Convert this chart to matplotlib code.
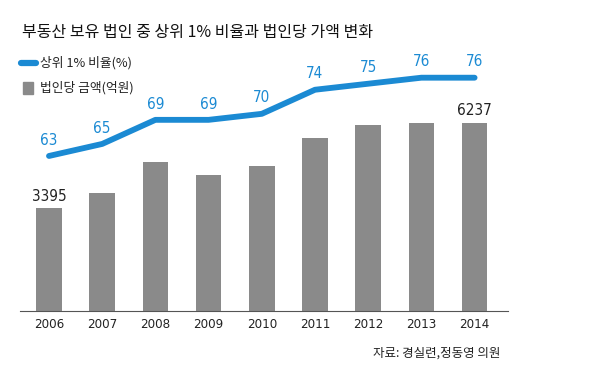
import matplotlib
matplotlib.use("Agg")
import matplotlib.pyplot as plt

plt.rcParams['font.family'] = ['Noto Sans CJK KR', 'DejaVu Sans']

years = ['2006', '2007', '2008', '2009', '2010', '2011', '2012', '2013', '2014']
amount = [3395, 3900, 4920, 4510, 4810, 5740, 6150, 6225, 6237]   # 법인당 금액(억원)
ratio = [63, 65, 69, 69, 70, 74, 75, 76, 76]                       # 상위 1% 비율(%)
amount_labels = {0: '3395', 8: '6237'}

blue = '#1b8ad3'
gray = '#8a8a8a'

W, H = 600, 374
fig = plt.figure(figsize=(6, 3.74), dpi=100)

# bar axes, box in pixels: left 20, right 508, top 60, bottom 311
ax = fig.add_axes([20 / W, (H - 311) / H, 488 / W, 251 / H])
x = list(range(len(years)))
ax.bar(x, amount, width=0.48, color=gray, zorder=2)
ax.set_ylim(0, 8308)
ax.set_xlim(-0.545, 8.628)
for i, t in amount_labels.items():
    ax.annotate(t, (i, amount[i]), xytext=(0, 3), textcoords='offset points',
                ha='center', va='bottom', fontsize=11, color='#222222',
                family='DejaVu Sans', fontstretch='condensed')

for s in ['top', 'right', 'left']:
    ax.spines[s].set_visible(False)
ax.spines['bottom'].set_color('#555555')
ax.set_yticks([])
ax.set_xticks(x)
ax.set_xticklabels(years, family='DejaVu Sans', fontstretch='condensed',
                   fontsize=9.5, color='#222222')
ax.tick_params(axis='x', length=0, pad=5)

# line on its own scale
ax2 = ax.twinx()
ax2.set_ylim(37.25, 78.94)
ax2.plot(x, ratio, color=blue, lw=4.2, solid_capstyle='round', zorder=3)
for i, v in enumerate(ratio):
    ax2.annotate(str(v), (i, v), xytext=(0, 6), textcoords='offset points',
                 ha='center', va='bottom', fontsize=11, color=blue,
                 family='DejaVu Sans', fontstretch='condensed')
ax2.axis('off')

fig.text(22 / W, 1 - 33 / H, '부동산 보유 법인 중 상위 1% 비율과 법인당 가액 변화',
         fontsize=11.5, fontweight='medium', va='center', ha='left', color='#111111')

# legend
fig.add_artist(plt.Line2D([21 / W, 36 / W], [1 - 63 / H, 1 - 63 / H],
                          color=blue, lw=4.5, solid_capstyle='round'))
fig.text(40 / W, 1 - 63 / H, '상위 1% 비율(%)', fontsize=9.2, va='center',
         ha='left', color='#222222')
fig.add_artist(plt.Rectangle((23 / W, 1 - 94 / H), 10 / W, 12 / H,
                             color=gray, transform=fig.transFigure))
fig.text(40 / W, 1 - 88 / H, '법인당 금액(억원)', fontsize=9.2, va='center',
         ha='left', color='#222222')

fig.text(500 / W, 1 - 353 / H, '자료: 경실련,정동영 의원', fontsize=9,
         va='center', ha='right', color='#222222')

fig.savefig('out.png', dpi=100)
